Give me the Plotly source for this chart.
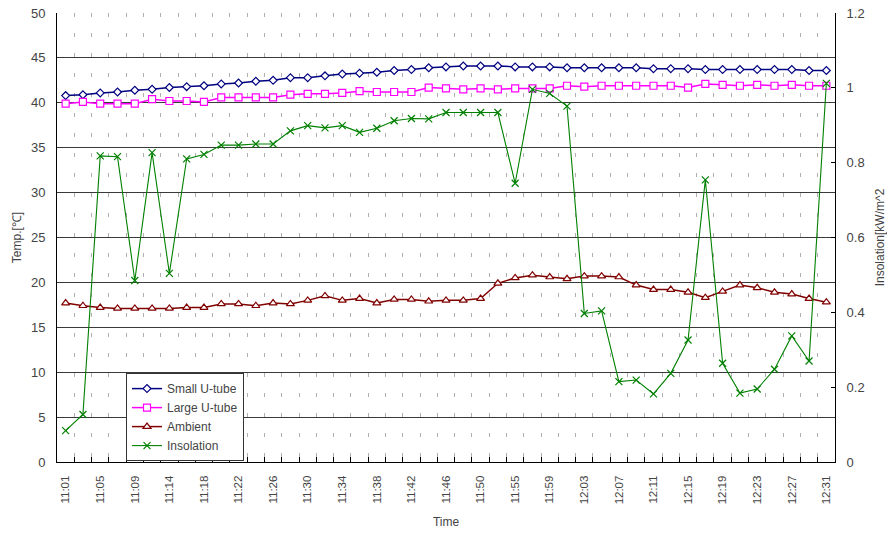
import plotly.graph_objects as go

# Measurement times (one sample roughly every two minutes)
times = ["11:01", "11:03", "11:05", "11:07", "11:09", "11:11", "11:14", "11:16",
         "11:18", "11:20", "11:22", "11:24", "11:26", "11:28", "11:30", "11:32",
         "11:34", "11:36", "11:38", "11:40", "11:42", "11:44", "11:46", "11:48",
         "11:50", "11:53", "11:55", "11:57", "11:59", "12:01", "12:03", "12:05",
         "12:07", "12:09", "12:11", "12:13", "12:15", "12:17", "12:19", "12:21",
         "12:23", "12:25", "12:27", "12:29", "12:31"]

# Every second time is labelled on the axis
tick_labels = [t if i % 2 == 0 else "" for i, t in enumerate(times)]

# Temperatures [°C]
small_utube = [40.8, 40.9, 41.1, 41.2, 41.4, 41.5, 41.7, 41.8, 41.9, 42.1, 42.2, 42.4,
               42.5, 42.8, 42.8, 43.0, 43.2, 43.3, 43.4, 43.6, 43.7, 43.9, 44.0, 44.1,
               44.1, 44.1, 44.0, 44.0, 44.0, 43.9, 43.9, 43.9, 43.9, 43.9, 43.8, 43.8,
               43.8, 43.7, 43.7, 43.7, 43.7, 43.7, 43.7, 43.6, 43.6]
large_utube = [39.9, 40.1, 39.9, 39.9, 39.9, 40.4, 40.2, 40.2, 40.1, 40.6, 40.6, 40.6,
               40.6, 40.9, 41.0, 41.0, 41.1, 41.3, 41.2, 41.2, 41.2, 41.7, 41.6, 41.5,
               41.6, 41.5, 41.6, 41.6, 41.6, 41.9, 41.8, 41.9, 41.9, 41.9, 41.9, 41.9,
               41.7, 42.1, 42.0, 41.9, 42.0, 41.9, 42.0, 41.9, 41.9]
ambient = [17.7, 17.4, 17.2, 17.1, 17.1, 17.1, 17.1, 17.2, 17.2, 17.6, 17.6, 17.4,
           17.7, 17.6, 18.0, 18.5, 18.0, 18.2, 17.7, 18.1, 18.1, 17.9, 18.0, 18.0,
           18.2, 19.9, 20.5, 20.8, 20.6, 20.4, 20.7, 20.7, 20.6, 19.7, 19.2, 19.2,
           18.9, 18.3, 19.0, 19.7, 19.4, 18.9, 18.7, 18.2, 17.8]

# Solar insolation [kW/m^2]
insolation = [0.084, 0.127, 0.818, 0.816, 0.485, 0.827, 0.504, 0.810, 0.822, 0.847,
              0.847, 0.850, 0.850, 0.885, 0.899, 0.893, 0.899, 0.881, 0.892, 0.912,
              0.918, 0.917, 0.934, 0.934, 0.934, 0.934, 0.745, 0.996, 0.985, 0.951,
              0.397, 0.404, 0.215, 0.219, 0.182, 0.237, 0.326, 0.754, 0.264, 0.184,
              0.195, 0.248, 0.337, 0.270, 1.012]

fig = go.Figure()

fig.add_trace(go.Scatter(
    x=times, y=small_utube, name="Small U-tube", mode="lines+markers",
    line=dict(color="#000080", width=1.5),
    marker=dict(symbol="diamond", size=6, color="white",
                line=dict(color="#000080", width=1.2)),
))
fig.add_trace(go.Scatter(
    x=times, y=large_utube, name="Large U-tube", mode="lines+markers",
    line=dict(color="#FF00FF", width=1.5),
    marker=dict(symbol="square", size=7, color="white",
                line=dict(color="#FF00FF", width=1.2)),
))
fig.add_trace(go.Scatter(
    x=times, y=ambient, name="Ambient", mode="lines+markers",
    line=dict(color="#800000", width=1.5),
    marker=dict(symbol="triangle-up", size=7, color="white",
                line=dict(color="#800000", width=1.2)),
))
fig.add_trace(go.Scatter(
    x=times, y=insolation, name="Insolation", mode="lines+markers", yaxis="y2",
    line=dict(color="#008000", width=1.1),
    marker=dict(symbol="x-thin", size=7, color="#008000",
                line=dict(color="#008000", width=1.2)),
))

axis_font = dict(family="Liberation Sans, Arial, sans-serif", color="#444444")

fig.update_layout(
    width=887, height=534,
    margin=dict(l=57, r=52, t=13, b=72),
    paper_bgcolor="white", plot_bgcolor="white",
    font=axis_font,
    showlegend=True,
    legend=dict(
        x=0.0887, y=0.198, xanchor="left", yanchor="top",
        bgcolor="white", bordercolor="#333333", borderwidth=1,
        font=dict(size=12, color="#444444"),
        tracegroupgap=0, itemwidth=30,
    ),
    xaxis=dict(
        type="category", categoryorder="array", categoryarray=times,
        range=[-0.5, len(times) - 0.5],
        tickmode="array", tickvals=times, ticktext=tick_labels,
        tickson="boundaries", tickangle=-90,
        ticks="inside", ticklen=5, tickcolor="black",
        tickfont=dict(size=11.5, color="#444444"),
        ticklabelstandoff=8, automargin=False,
        showline=True, linecolor="black", linewidth=1,
        showgrid=True, gridcolor="#b0b0b0", gridwidth=1, griddash="4px,16px",
        zeroline=False,
        title=dict(text="Time", font=dict(size=12, color="#444444"), standoff=14),
    ),
    yaxis=dict(
        range=[0, 50], dtick=5, tick0=0,
        ticks="", tickfont=dict(size=13, color="#444444"),
        ticklabelstandoff=8, automargin=False,
        showline=True, linecolor="black", linewidth=1,
        showgrid=True, gridcolor="#3a3a3a", gridwidth=1.3,
        zeroline=False,
        title=dict(text="Temp.[℃]", font=dict(size=12, color="#444444"), standoff=6),
    ),
    yaxis2=dict(
        overlaying="y", side="right",
        range=[0, 1.2], dtick=0.2, tick0=0,
        ticks="inside", ticklen=4, tickcolor="black",
        tickfont=dict(size=13, color="#444444"),
        ticklabelstandoff=8, automargin=False,
        showline=True, linecolor="black", linewidth=1,
        showgrid=False, zeroline=False,
        title=dict(text="Insolation[kW/m^2", font=dict(size=12, color="#444444"), standoff=12),
    ),
)

fig.write_html("out.html")
